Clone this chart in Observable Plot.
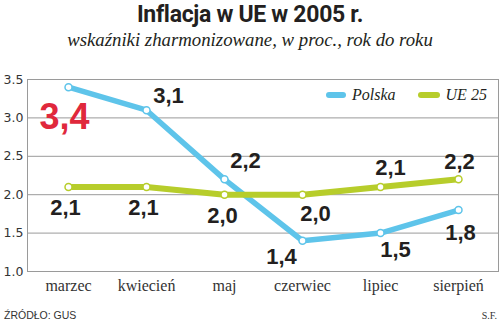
<!DOCTYPE html>
<html>
<head>
<meta charset="utf-8">
<script src="https://cdn.jsdelivr.net/npm/d3@7"></script>
<script src="https://cdn.jsdelivr.net/npm/@observablehq/plot@0.6"></script>
<style>
  html, body { margin: 0; padding: 0; background: #fff; }
  #wrap { position: relative; width: 500px; height: 332px; overflow: hidden; font-family: "Liberation Sans", sans-serif; color: #231f20; }
  #title { position: absolute; left: 0; width: 500px; top: 2px; text-align: center; font-family: Roboto, sans-serif; font-weight: 700; font-size: 23px; letter-spacing: -0.3px; line-height: 26px; }
  #subtitle { position: absolute; left: 0; width: 500px; top: 30px; text-align: center; font-family: "Liberation Serif", serif; font-style: italic; font-size: 18.8px; line-height: 20px; }
  #chart { position: absolute; left: 0; top: 55px; }
  #legend { position: absolute; top: 86px; left: 326px; font-family: "Liberation Serif", serif; font-style: italic; font-size: 16px; line-height: 18px; display: flex; align-items: center; }
  .sw { display: inline-block; width: 20px; height: 6px; border-radius: 3px; margin-right: 6px; }
  #source { position: absolute; left: 4px; top: 309px; font-family: "Liberation Sans", sans-serif; font-size: 10.5px; color: #333; }
  #sf { position: absolute; right: 3px; top: 310px; font-family: "Liberation Serif", serif; font-size: 10px; color: #333; }
</style>
</head>
<body>
<div id="wrap">
  <div id="title">Inflacja w UE w 2005 r.</div>
  <div id="subtitle">wskaźniki zharmonizowane, w proc., rok do roku</div>
  <div id="chart"></div>
  <div id="legend"></div>
  <div id="source">ŹRÓDŁO: GUS</div>
  <div id="sf">S.F.</div>
</div>
<script>
const months = ["marzec", "kwiecień", "maj", "czerwiec", "lipiec", "sierpień"];
const polska = [3.4, 3.1, 2.2, 1.4, 1.5, 1.8];
const ue25 = [2.1, 2.1, 2.0, 2.0, 2.1, 2.2];
const seriesNames = ["Polska", "UE 25"];
const yTicks = [1.0, 1.5, 2.0, 2.5, 3.0, 3.5];

const colors = {"Polska": "#5ec4ea", "UE 25": "#b7cd2b"};
const fmt = v => d3.format(".1f")(v).replace(".", ",");

// label placement (layout), per series and month index
const labelOffsets = {
  "Polska": [[-4, 30], [22, -14], [21, -18], [-21, 16], [15, 17], [2, 23]],
  "UE 25": [[-3, 21], [-3, 21], [-2, 21], [13, 19], [10, -19], [1, -17]]
};

const rows = [];
seriesNames.forEach((s, si) => {
  const vals = si === 0 ? polska : ue25;
  months.forEach((m, i) => {
    rows.push({series: s, month: m, value: vals[i], dx: labelOffsets[s][i][0], dy: labelOffsets[s][i][1], big: s === "Polska" && i === 0});
  });
});
const polRows = rows.filter(d => d.series === "Polska");
const ueRows = rows.filter(d => d.series === "UE 25");

const textMarks = rows.map(d => Plot.text([d], {
  x: "month", y: "value", text: dd => fmt(dd.value),
  dx: d.dx, dy: d.dy,
  fontSize: d.big ? 36 : 22, fontWeight: "bold",
  fontFamily: "Liberation Sans, sans-serif",
  fill: d.big ? "#e0283c" : "#231f20"
}));

const full = Plot.plot({
  width: 500,
  height: 245,
  marginLeft: 27,
  marginRight: 2,
  marginTop: 24,
  marginBottom: 29,
  style: {fontFamily: "Liberation Sans, sans-serif", color: "#231f20", background: "transparent", overflow: "visible"},
  x: {type: "point", domain: months, padding: 0.5, label: null},
  y: {domain: [1, 3.5], label: null},
  marks: [
    Plot.gridY([1.5, 2.0, 2.5, 3.0], {stroke: "#9a9a9a", strokeOpacity: 1, strokeWidth: 1}),
    Plot.frame({stroke: "#9a9a9a", strokeWidth: 1}),
    Plot.axisY(yTicks, {tickSize: 0, tickPadding: 4, tickFormat: d3.format(".1f"), fontSize: 12.5, fontFamily: "DejaVu Sans, sans-serif", fill: "#333", label: null}),
    Plot.axisX(months, {tickSize: 0, tickPadding: 8, fontSize: 16, fontFamily: "Liberation Serif, serif", fill: "#333", label: null}),
    Plot.line(polRows, {x: "month", y: "value", stroke: colors["Polska"], strokeWidth: 5.5, strokeLinejoin: "round", strokeLinecap: "round"}),
    Plot.line(ueRows, {x: "month", y: "value", stroke: colors["UE 25"], strokeWidth: 6, strokeLinejoin: "round", strokeLinecap: "round"}),
    Plot.dot(polRows, {x: "month", y: "value", r: 3.5, fill: "white", stroke: colors["Polska"], strokeWidth: 1.5}),
    Plot.dot(ueRows, {x: "month", y: "value", r: 3.5, fill: "white", stroke: colors["UE 25"], strokeWidth: 1.5}),
    ...textMarks
  ]
});
document.getElementById("chart").appendChild(full);

// legend
const legend = document.getElementById("legend");
seriesNames.forEach((s, i) => {
  const item = document.createElement("span");
  item.style.display = "inline-flex";
  item.style.alignItems = "center";
  item.style.marginRight = i === 0 ? "22px" : "0";
  const sw = document.createElement("span");
  sw.className = "sw";
  sw.style.background = colors[s];
  if (i === 1) sw.style.width = "22px";
  const t = document.createElement("span");
  t.textContent = s;
  item.appendChild(sw);
  item.appendChild(t);
  legend.appendChild(item);
});
</script>
</body>
</html>
